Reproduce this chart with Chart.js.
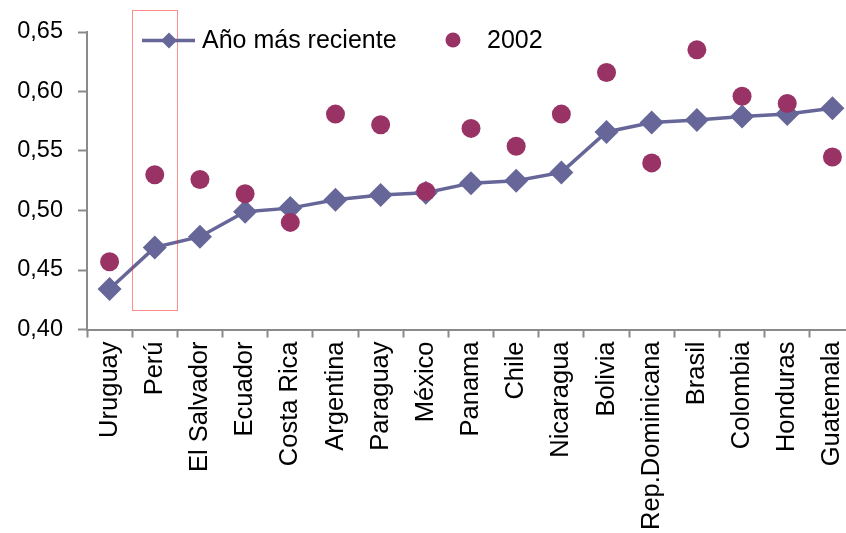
<!DOCTYPE html>
<html>
<head>
<meta charset="utf-8">
<script src="https://cdn.jsdelivr.net/npm/chart.js@4.4.0/dist/chart.umd.min.js"></script>
<style>
  html, body { margin: 0; padding: 0; background: #ffffff; overflow: hidden; }
  #wrap { position: relative; width: 867px; height: 533px; }
</style>
</head>
<body>
<div id="wrap"><canvas id="c"></canvas></div>
<script>
const categories = ["Uruguay", "Perú", "El Salvador", "Ecuador", "Costa Rica", "Argentina", "Paraguay", "México", "Panama", "Chile", "Nicaragua", "Bolivia", "Rep.Dominicana", "Brasil", "Colombia", "Honduras", "Guatemala"];
const recentValues = [0.434, 0.469, 0.478, 0.499, 0.502, 0.509, 0.513, 0.515, 0.523, 0.525, 0.532, 0.566, 0.574, 0.576, 0.579, 0.581, 0.586];
const values2002 = [0.457, 0.530, 0.526, 0.514, 0.490, 0.581, 0.572, 0.516, 0.569, 0.554, 0.581, 0.616, 0.540, 0.635, 0.596, 0.590, 0.545];
const seriesNames = ["Año más reciente", "2002"];
const yTicks = [0.40, 0.45, 0.50, 0.55, 0.60, 0.65];

const LINE_COLOR = "#666699";
const DOT_COLOR = "#993366";
const AXIS_COLOR = "#8a8a8a";
const FONT = "'Liberation Sans', Arial, sans-serif";

const overlay = {
  id: "overlay",
  afterDraw(chart) {
    const ctx = chart.ctx;
    const x = chart.scales.x, y = chart.scales.y;
    // dotted highlight box around Perú
    const half = (x.getPixelForValue(1) - x.getPixelForValue(0)) / 2;
    const cx = x.getPixelForValue(1);
    const top = y.getPixelForValue(0.6685);
    const bot = y.getPixelForValue(0.416);
    ctx.save();
    ctx.strokeStyle = "#ff1a1a";
    ctx.lineWidth = 1;
    ctx.setLineDash([1, 1]);
    ctx.strokeRect(Math.round(cx - half) + 0.5, Math.round(top) + 0.5, Math.round(2 * half), Math.round(bot - top));
    ctx.setLineDash([]);
    // legend
    const ly = 40.5;
    ctx.strokeStyle = LINE_COLOR;
    ctx.lineWidth = 3.5;
    ctx.beginPath();
    ctx.moveTo(142, ly); ctx.lineTo(195, ly);
    ctx.stroke();
    ctx.fillStyle = LINE_COLOR;
    ctx.beginPath();
    ctx.moveTo(169 - 8, ly); ctx.lineTo(169, ly - 8); ctx.lineTo(169 + 8, ly); ctx.lineTo(169, ly + 8);
    ctx.closePath(); ctx.fill();
    ctx.fillStyle = DOT_COLOR;
    ctx.beginPath();
    ctx.arc(453, 40, 7.5, 0, Math.PI * 2);
    ctx.fill();
    ctx.fillStyle = "#000000";
    ctx.font = "25px " + FONT;
    ctx.textBaseline = "middle";
    ctx.textAlign = "left";
    ctx.fillText(seriesNames[0], 202, 41);
    ctx.fillText(seriesNames[1], 487, 41);
    ctx.restore();
  }
};

new Chart(document.getElementById("c"), {
  type: "line",
  data: {
    labels: categories,
    datasets: [
      {
        label: seriesNames[1],
        data: values2002,
        showLine: false,
        pointStyle: "circle",
        pointRadius: 9.5,
        pointBackgroundColor: DOT_COLOR,
        pointBorderColor: DOT_COLOR,
        pointBorderWidth: 0,
        borderColor: DOT_COLOR,
        backgroundColor: DOT_COLOR,
        order: 0
      },
      {
        label: seriesNames[0],
        data: recentValues,
        borderColor: LINE_COLOR,
        borderWidth: 3.5,
        pointStyle: "rectRot",
        pointRadius: 12,
        pointBackgroundColor: LINE_COLOR,
        pointBorderColor: LINE_COLOR,
        pointBorderWidth: 0,
        tension: 0,
        fill: false,
        order: 1
      }
    ]
  },
  options: {
    responsive: true,
    maintainAspectRatio: false,
    animation: false,
    devicePixelRatio: 1,
    layout: { padding: { top: 32, right: 5, left: 0, bottom: 0 } },
    plugins: { legend: { display: false }, tooltip: { enabled: false } },
    scales: {
      x: {
        type: "category",
        offset: true,
        grid: { display: true, offset: true, drawOnChartArea: false, drawTicks: true, tickLength: 8, tickColor: AXIS_COLOR, tickWidth: 2 },
        border: { display: true, color: AXIS_COLOR, width: 2 },
        ticks: { autoSkip: false, maxRotation: 90, minRotation: 90, padding: 4, color: "#000000", font: { family: FONT, size: 25.5 } },
        afterFit(scale) { scale.height = 203.5; scale.paddingLeft = 0; scale.paddingRight = 0; }
      },
      y: {
        min: 0.40,
        max: 0.65,
        afterBuildTicks(scale) { scale.ticks = yTicks.map(v => ({ value: v })); },
        grid: { display: true, drawOnChartArea: false, drawTicks: true, tickLength: 9, tickColor: AXIS_COLOR, tickWidth: 2 },
        border: { display: true, color: AXIS_COLOR, width: 2 },
        ticks: {
          padding: 15,
          color: "#000000",
          font: { family: FONT, size: 23.5 },
          callback: (v) => Number(v).toFixed(2).replace(".", ",")
        },
        afterFit(scale) { scale.width = 87; }
      }
    }
  },
  plugins: [overlay]
});
</script>
</body>
</html>
